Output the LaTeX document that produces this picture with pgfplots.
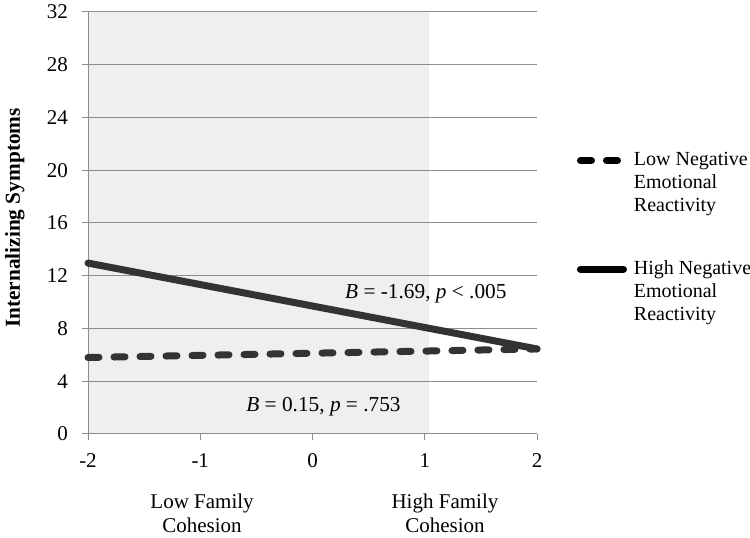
\documentclass[border=0pt]{standalone}
\usepackage{fontspec}
\setmainfont{Liberation Serif}
\usepackage{pgfplots}
\pgfplotsset{compat=1.18}
\definecolor{shadec}{HTML}{EFEFEF}
\definecolor{gridc}{HTML}{8C8C8C}
\definecolor{linec}{HTML}{333333}
\begin{document}
\fontsize{21bp}{23bp}\selectfont
\begin{tikzpicture}
\begin{axis}[
  at={(88bp,104bp)}, anchor=south west,
  scale only axis, width=449bp, height=422bp,
  xmin=-2, xmax=2, ymin=0, ymax=32,
  xtick={-2,-1,0,1,2}, ytick={0,4,8,12,16,20,24,28,32},
  axis x line=bottom, axis y line=left,
  axis line style={gridc, line width=1bp, -},
  ymajorgrids, major grid style={gridc, line width=1bp},
  tick style={gridc, line width=1bp},
  tick align=outside, major tick length=6bp,
  /pgf/number format/assume math mode=true,
  ticklabel style={font=\fontsize{21bp}{23bp}\selectfont, inner sep=0pt},
  yticklabel style={anchor=east, xshift=-14bp},
  xticklabel style={anchor=north, yshift=-13bp},
  ylabel={Internalizing Symptoms},
  ylabel style={font=\fontsize{21.3bp}{23bp}\selectfont\bfseries, at={(axis description cs:-0.163,0.512)}, anchor=center},
  set layers,
  clip=false,
  legend style={at={(axis description cs:1.089,0.672)}, anchor=north west, draw=none, fill=none,
    inner sep=0pt, outer sep=0pt, row sep=42bp, column sep=5bp,
    font=\fontsize{20bp}{23bp}\selectfont,
    cells={anchor=west, align=left, inner sep=0pt}},
  legend image code/.code={\draw[#1, draw=black] (3.5bp,23bp) -- (46.5bp,23bp);},
]
\addplot[fill=shadec, draw=none, on layer=axis background, forget plot] coordinates {(-2,32) (1.04,32)} \closedcycle;
\addplot[linec, line width=7bp, line cap=round, dash pattern=on 11bp off 15bp] coordinates {(-2,5.8) (2,6.45)};
\addlegendentry{Low Negative\\Emotional\\Reactivity}
\addplot[linec, line width=7bp, line cap=round] coordinates {(-2,12.96) (2,6.45)};
\addlegendentry{High Negative\\Emotional\\Reactivity}
\node[anchor=base, inner sep=0pt, font=\fontsize{21.3bp}{23bp}\selectfont] at (axis cs:1.01,10.27) {\textit{B} = -1.69, \textit{p} < .005};
\node[anchor=base, inner sep=0pt, font=\fontsize{21.3bp}{23bp}\selectfont] at (axis cs:0.098,1.70) {\textit{B} = 0.15, \textit{p} = .753};
\node[anchor=north, inner sep=0pt, align=center, font=\fontsize{21bp}{24bp}\selectfont] at (axis cs:-0.984,-4.5) {Low Family\\Cohesion};
\node[anchor=north, inner sep=0pt, align=center, font=\fontsize{21bp}{24bp}\selectfont] at (axis cs:1.18,-4.5) {High Family\\Cohesion};
\end{axis}
\pgfresetboundingbox
\path[use as bounding box] (0,0) rectangle (750bp,538bp);
\end{tikzpicture}
\end{document}
